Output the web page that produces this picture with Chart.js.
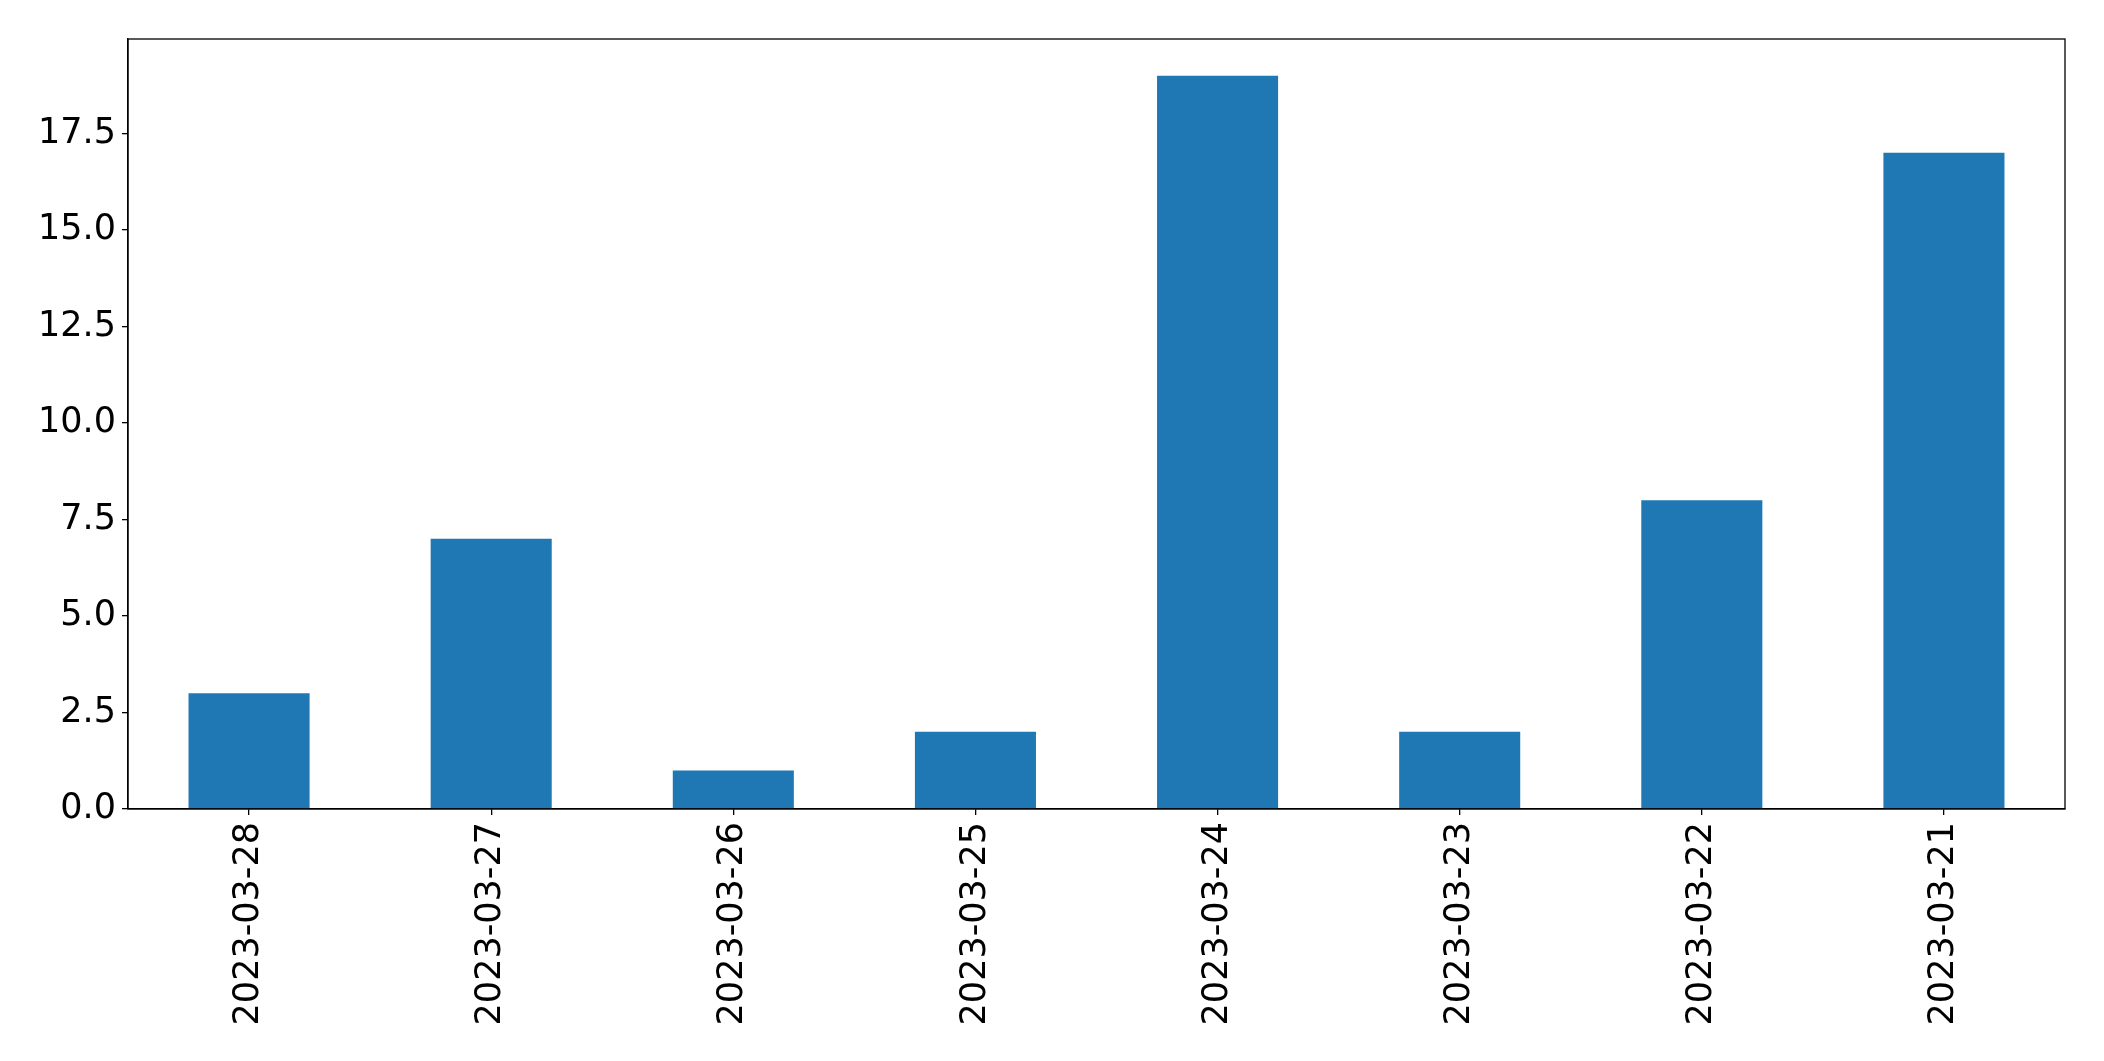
<!DOCTYPE html>
<html>
<head>
<meta charset="utf-8">
<script src="https://cdn.jsdelivr.net/npm/chart.js@4.4.0/dist/chart.umd.min.js"></script>
<style>
  html, body { margin: 0; padding: 0; background: #fff; }
  #wrap { width: 2104px; height: 1061px; }
</style>
</head>
<body>
<div id="wrap"><canvas id="canvas" width="2104" height="1061"></canvas></div>
<script>
var dates = ["2023-03-28", "2023-03-27", "2023-03-26", "2023-03-25", "2023-03-24", "2023-03-23", "2023-03-22", "2023-03-21"]
var counts = [3, 7, 1, 2, 19, 2, 8, 17]
var yTicks = [0, 2.5, 5, 7.5, 10, 12.5, 15, 17.5]

// frame around the plot area, like a matplotlib axes box
var frame = {
  id: 'frame',
  afterDraw: function(chart){
    var a = chart.chartArea, c = chart.ctx
    c.save()
    c.strokeStyle = '#000'
    c.lineWidth = 1.3
    c.strokeRect(a.left, a.top, a.right - a.left, a.bottom - a.top)
    c.restore()
  }
}

Chart.defaults.font.family = 'DejaVu Sans'
Chart.defaults.color = '#000'

var ctx = document.getElementById('canvas')
var myChart = new Chart(ctx, {
  type: 'bar',
  data: {
    labels: dates,
    datasets: [{
      data: counts,
      backgroundColor: '#1f77b4',
      borderWidth: 0,
      barPercentage: 0.5,
      categoryPercentage: 1.0
    }]
  },
  options: {
    responsive: false,
    animation: false,
    devicePixelRatio: 1,
    layout: { padding: { top: 39, right: 39, left: 0, bottom: 0 } },
    plugins: { legend: { display: false }, tooltip: { enabled: false } },
    scales: {
      x: {
        grid: { offset: false, drawOnChartArea: false, drawTicks: true, tickLength: 6, color: '#000', lineWidth: 1.3 },
        border: { display: true, color: '#000', width: 1.3 },
        ticks: { font: { size: 35 }, maxRotation: 90, minRotation: 90, padding: 7, autoSkip: false },
        afterFit: function(s){ s.height = 252 }
      },
      y: {
        min: 0,
        max: 19.95,
        grid: { drawOnChartArea: false, drawTicks: true, tickLength: 6, color: '#000', lineWidth: 1.3 },
        border: { display: true, color: '#000', width: 1.3 },
        ticks: {
          font: { size: 35 },
          padding: 6,
          callback: function(v){ return v.toFixed(1) }
        },
        afterBuildTicks: function(s){
          s.ticks = yTicks.map(function(v){ return { value: v } })
        },
        afterFit: function(s){ s.width = 128 }
      }
    }
  },
  plugins: [frame]
})
</script>
</body>
</html>
